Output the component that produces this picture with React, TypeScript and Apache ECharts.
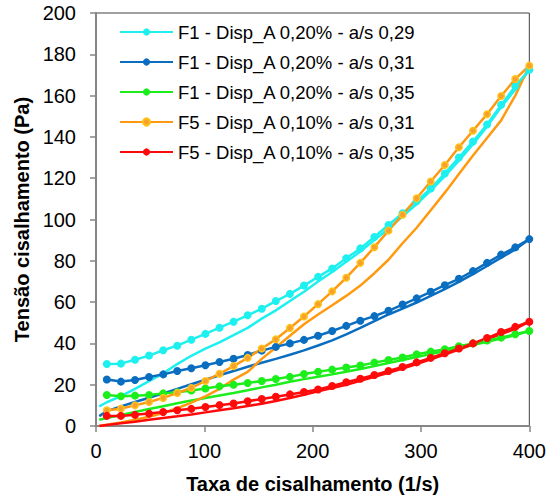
import React, { useEffect, useRef } from "react";
import * as echarts from "echarts";

const legendNames = [
  "F1 - Disp_A 0,20% - a/s 0,29",
  "F1 - Disp_A 0,20% - a/s 0,31",
  "F1 - Disp_A 0,20% - a/s 0,35",
  "F5 - Disp_A 0,10% - a/s 0,31",
  "F5 - Disp_A 0,10% - a/s 0,35",
];

// shear rate (1/s) for the rising branch (markers) and the falling branch (line only)
const upX = [10, 23, 36, 49, 62, 75, 88, 101, 114, 127, 140, 153, 166, 179, 192, 205, 218, 231, 244, 257, 270, 283, 296, 309, 322, 335, 348, 361, 374, 387, 400];
const downX = [400, 387, 374, 361, 348, 335, 322, 309, 296, 283, 270, 257, 244, 231, 218, 205, 192, 179, 166, 153, 140, 127, 114, 101, 88, 75, 62, 49, 36, 23, 10, 3];

const cyanUp = [30, 30.2, 32.1, 34.1, 36.7, 38.9, 41.8, 44.6, 47.6, 50.5, 53.6, 56.8, 60.5, 64, 68, 72.2, 76.3, 81.2, 86, 91.5, 97.3, 103, 108.8, 115, 122.3, 130, 137.8, 146, 155.5, 164.5, 172.5];
const cyanDown = [172.5, 163, 154.5, 145, 136.5, 128.5, 121, 114, 107.5, 101.5, 95.5, 90, 84.5, 79.5, 74.6, 70, 65, 60.5, 56, 52, 47.5, 44, 40.5, 37.5, 34, 30, 25.5, 21.7, 18, 14.5, 11.5, 9.5];

const blueUp = [22.5, 21.5, 22.3, 23.7, 25, 26.6, 28, 29.4, 31, 32.6, 34.4, 36.5, 38.3, 40, 41.7, 43.7, 46, 48.5, 51, 53.2, 55.8, 58.8, 61.8, 65, 68.2, 71.3, 75, 79, 83, 86.5, 90.5];
const blueDown = [90.5, 85.5, 81.5, 77.5, 73.5, 69.8, 66.3, 63, 59.8, 56.8, 54, 50.8, 47.5, 44.4, 41.5, 39, 36.6, 34.5, 32.5, 30.6, 28.7, 26.6, 24.6, 22.4, 20.2, 18, 15.8, 13.7, 11.6, 9.5, 7.2, 4.8];

const greenUp = [15, 14.4, 14.7, 15, 15.8, 16.3, 17.2, 18.2, 19.2, 20, 20.8, 21.8, 22.8, 23.8, 25.2, 26.3, 27.3, 28.3, 29.3, 30.7, 32, 33.2, 34.7, 36, 37.2, 38.6, 40, 41.4, 42.8, 44.4, 46];
const greenDown = [46, 44, 42.3, 40.8, 39.2, 37.7, 36.2, 34.8, 33.4, 32, 30.5, 29, 27.6, 26.3, 25, 23.8, 22.7, 21.4, 20, 18.7, 17.3, 16, 14.8, 13.6, 12.3, 11, 9.6, 8.2, 6.8, 5.3, 3.9, 3];

const orangeUp = [7.6, 8.4, 10, 11.6, 13.6, 16, 18.4, 21.8, 25.3, 29, 33, 37.5, 42, 47.5, 53, 59, 65.2, 71.8, 79, 86.6, 94.6, 102.3, 110.3, 118.4, 126.4, 135, 143, 151, 159.8, 168, 174.5];
const orangeDown = [174.5, 160, 148, 139.5, 131, 122, 113, 104.5, 96, 88.5, 80.5, 74, 68, 63, 58.5, 54, 49.3, 43.7, 38, 32.5, 26.2, 22.5, 18, 14.3, 11.3, 8.6, 6.3, 4.5, 3, 1.7, 0.6, 0];

const redUp = [4.9, 4.9, 5.4, 6, 6.8, 7.6, 8.3, 9.2, 10.1, 10.9, 12, 13.1, 14.2, 15.3, 16.5, 17.7, 19.4, 21.2, 22.9, 24.7, 26.6, 28.6, 30.8, 33, 35.2, 37.5, 40, 42.6, 45.5, 48, 50.5];
const redDown = [50.5, 47, 44.5, 42, 39.5, 37, 34.6, 32.3, 30, 27.8, 25.8, 23.8, 21.9, 20, 18.4, 16.8, 15.1, 13.6, 12.1, 10.8, 9.7, 8.6, 7.6, 6.6, 5.6, 4.7, 3.9, 3, 2.1, 1.3, 0.5, 0];

const xTicks = { min: 0, max: 400, interval: 100 };
const yTicks = { min: 0, max: 200, interval: 20 };

const FONT = "'Liberation Sans', Arial, sans-serif";

const seriesDefs = [
  { up: cyanUp, down: cyanDown, color: "#1EF0F0", fill: "#1EF0F0", border: "#1EF0F0" },
  { up: blueUp, down: blueDown, color: "#0A6EC0", fill: "#0A6EC0", border: "#0A6EC0" },
  { up: greenUp, down: greenDown, color: "#1CEE1C", fill: "#1CEE1C", border: "#1CEE1C" },
  { up: orangeUp, down: orangeDown, color: "#FF9A10", fill: "#F7A030", border: "#FFC317" },
  { up: redUp, down: redDown, color: "#FF0A0A", fill: "#FF0A0A", border: "#FF0A0A" },
];

const zip = (xs: number[], ys: number[]) => xs.map((x, i) => [x, ys[i]]);

export default function App() {
  const ref = useRef<HTMLDivElement>(null);
  useEffect(() => {
    document.body.style.margin = "0";
    if (!ref.current) return;
    const chart = echarts.init(ref.current, undefined, { renderer: "svg" });
    const series: any[] = [];
    seriesDefs.forEach((d, i) => {
      series.push({
        name: legendNames[i] + " ",
        type: "line",
        data: zip(downX, d.down),
        symbol: "none",
        showSymbol: false,
        lineStyle: { color: d.color, width: 2.5 },
        itemStyle: { color: d.color },
        z: 2,
      });
    });
    seriesDefs.forEach((d, i) => {
      const ringed = d.border !== d.fill;
      series.push({
        name: legendNames[i],
        type: "line",
        data: zip(upX, d.up),
        symbol: "circle",
        symbolSize: ringed ? 6.5 : 8,
        lineStyle: { color: d.color, width: 2.5 },
        itemStyle: { color: d.fill, borderColor: d.border, borderWidth: ringed ? 1.5 : 0 },
        z: 3,
      });
    });
    chart.setOption({
      animation: false,
      backgroundColor: "#ffffff",
      textStyle: { fontFamily: FONT },
      grid: {
        left: 96,
        right: 18,
        top: 13,
        bottom: 73,
        show: true,
        borderColor: "#404040",
        borderWidth: 1,
        backgroundColor: "transparent",
      },
      legend: {
        data: legendNames,
        orient: "vertical",
        left: 119,
        top: 22,
        padding: 0,
        itemWidth: 53,
        itemHeight: 9,
        itemGap: 10,
        textStyle: { fontFamily: FONT, fontSize: 18.5, color: "#000", lineHeight: 20 },
      },
      xAxis: {
        type: "value",
        min: xTicks.min,
        max: xTicks.max,
        interval: xTicks.interval,
        name: "Taxa de cisalhamento (1/s)",
        nameLocation: "middle",
        nameGap: 48,
        nameTextStyle: { fontFamily: FONT, fontSize: 20, fontWeight: "bold", color: "#000" },
        axisLine: { show: true, lineStyle: { color: "#868686", width: 2 } },
        axisTick: { show: true, length: 6, lineStyle: { color: "#868686", width: 1.5 } },
        axisLabel: { fontFamily: FONT, fontSize: 20, color: "#000", margin: 15 },
        splitLine: { show: false },
      },
      yAxis: {
        type: "value",
        min: yTicks.min,
        max: yTicks.max,
        interval: yTicks.interval,
        name: "Tensão cisalhamento (Pa)",
        nameLocation: "middle",
        nameGap: 64,
        nameTextStyle: { fontFamily: FONT, fontSize: 20, fontWeight: "bold", color: "#000" },
        axisLine: { show: true, lineStyle: { color: "#868686", width: 2 } },
        axisTick: { show: true, length: 6, lineStyle: { color: "#868686", width: 1.5 } },
        axisLabel: { fontFamily: FONT, fontSize: 20, color: "#000", margin: 20 },
        splitLine: { show: false },
      },
      series,
    });
    return () => chart.dispose();
  }, []);
  return <div ref={ref} style={{ width: 549, height: 499 }} />;
}
